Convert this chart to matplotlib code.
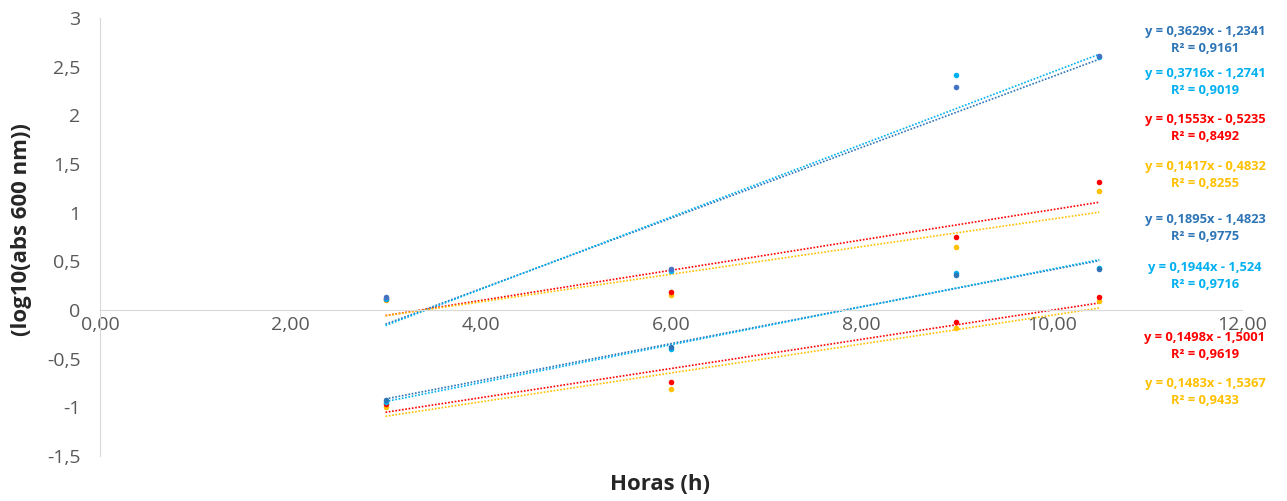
import matplotlib
matplotlib.use('Agg')
import matplotlib.pyplot as plt
import numpy as np

plt.rcParams['font.family'] = ['Open Sans', 'DejaVu Sans']

horas = [3, 6, 9, 10.5]

# log10(abs 600 nm) por série
azul_a = [0.13, 0.42, 2.29, 2.61]
celeste_a = [0.11, 0.40, 2.41, 2.60]
vermelho_a = [0.11, 0.19, 0.75, 1.32]
laranja_a = [0.10, 0.155, 0.65, 1.22]
azul_b = [-0.92, -0.38, 0.36, 0.42]
celeste_b = [-0.95, -0.40, 0.38, 0.43]
vermelho_b = [-0.97, -0.74, -0.12, 0.13]
laranja_b = [-1.00, -0.81, -0.19, 0.09]

# linhas de tendência (y = a*x + b)
inclinacoes = [0.3629, 0.3716, 0.1553, 0.1417, 0.1895, 0.1944, 0.1498, 0.1483]
interceptos = [-1.2341, -1.2741, -0.5235, -0.4832, -1.4823, -1.524, -1.5001, -1.5367]
r2 = [0.9161, 0.9019, 0.8492, 0.8255, 0.9775, 0.9716, 0.9619, 0.9433]
eq_textos = ['0,3629x - 1,2341', '0,3716x - 1,2741', '0,1553x - 0,5235',
             '0,1417x - 0,4832', '0,1895x - 1,4823', '0,1944x - 1,524',
             '0,1498x - 1,5001', '0,1483x - 1,5367']

series = [laranja_a, vermelho_a, celeste_a, azul_a,
          laranja_b, vermelho_b, celeste_b, azul_b]
cores_series = ['#FFC000', '#FF0000', '#00B0F0', '#4472C4',
                '#FFC000', '#FF0000', '#00B0F0', '#2E75B6']
cores_tend = ['#2E75B6', '#00B0F0', '#FF0000', '#FFC000',
              '#2E75B6', '#00B0F0', '#FF0000', '#FFC000']
cores_texto = ['#2E75B6', '#00B0F0', '#FF0000', '#FFC000',
               '#2E75B6', '#00B0F0', '#FF0000', '#FFC000']
# posição vertical (pixels) dos rótulos das equações
rotulo_y = [31, 74, 119, 167, 219, 268, 338, 384]

W, H = 1287, 501
fig = plt.figure(figsize=(W / 100, H / 100), dpi=100)
ax = fig.add_axes([100 / W, 1 - 456 / H, 1142 / W, 438 / H])

xt = np.array([3, 10.5])
for a, b, c in zip(inclinacoes, interceptos, cores_tend):
    ax.plot(xt, a * xt + b, linestyle=(0, (1, 1)), color=c, lw=1.2, zorder=2)

for ys, c in zip(series, cores_series):
    ax.scatter(horas, ys, s=16, color=c, zorder=3, linewidths=0)

ax.set_xlim(0, 12)
ax.set_ylim(-1.5, 3)
ax.set_xticks(np.arange(0, 13, 2))
ax.set_xticklabels([f'{v:.2f}'.replace('.', ',') for v in np.arange(0, 13, 2)])
yt = np.arange(-1.5, 3.01, 0.5)
ax.set_yticks(yt)
ax.set_yticklabels([('%g' % v).replace('.', ',') for v in yt])

for s in ['top', 'right']:
    ax.spines[s].set_visible(False)
ax.spines['bottom'].set_position(('data', 0))
ax.spines['bottom'].set_color('#D9D9D9')
ax.spines['left'].set_color('#D9D9D9')
ax.tick_params(axis='both', length=0, labelsize=14, labelcolor='#595959')
ax.tick_params(axis='x', pad=4)
ax.tick_params(axis='y', pad=14)

fig.text(660 / W, 1 - 484 / H, 'Horas (h)', ha='center', va='center',
         fontsize=16, fontweight='bold', color='#262626')
fig.text(22 / W, 1 - 230 / H, '(log10(abs 600 nm))', ha='center', va='center',
         rotation=90, fontsize=16, fontweight='bold', color='#262626')

for i in range(8):
    yp = 1 - rotulo_y[i] / H
    fig.text(1205 / W, yp, f'y = {eq_textos[i]}', ha='center', va='center',
             fontsize=9.3, fontweight='bold', color=cores_texto[i])
    fig.text(1205 / W, yp - 17 / H, f'R² = {r2[i]:.4f}'.replace('.', ','),
             ha='center', va='center', fontsize=9.3, fontweight='bold',
             color=cores_texto[i])

fig.savefig('out.png', dpi=100)
